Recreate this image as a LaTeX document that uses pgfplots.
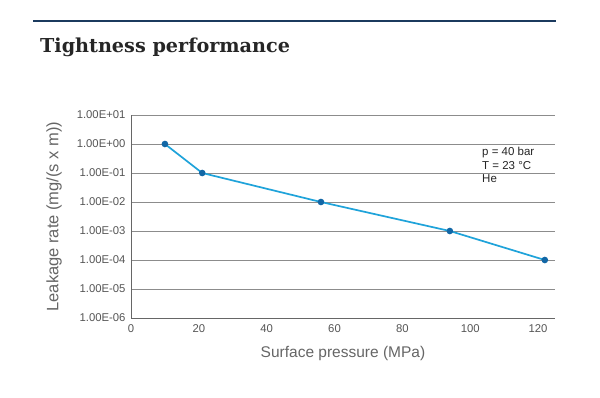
\documentclass[border=0pt]{standalone}
\usepackage{pgfplots}
\pgfplotsset{compat=1.18}
\usepackage{fontspec}
\setmainfont{Liberation Sans}
\newfontfamily\titlefont{DejaVu Serif}
\definecolor{linec}{HTML}{1FA3DA}
\definecolor{markc}{HTML}{1267A6}
\definecolor{navy}{HTML}{1B3A5E}
\definecolor{txt}{HTML}{555555}
\begin{document}
\begin{tikzpicture}[x=1pt,y=1pt]
\useasboundingbox (0,0) rectangle (600,-397);
\fill[white] (0,0) rectangle (600,-397);
\draw[navy, line width=1.8pt] (33,-21) -- (556,-21);
\node[anchor=base west, inner sep=0pt, font=\titlefont\bfseries\fontsize{19.2}{22}\selectfont, text=black!85] at (40,-52) {Tightness performance};
\begin{axis}[
  at={(131pt,-318pt)}, anchor=south west,
  scale only axis, width=424pt, height=203pt,
  xmin=0, xmax=125, ymode=log, ymin=1e-6, ymax=1e1,
  xtick={0,20,40,60,80,100,120},
  ytick={1e-6,1e-5,1e-4,1e-3,1e-2,1e-1,1e0,1e1},
  yticklabels={1.00E-06,1.00E-05,1.00E-04,1.00E-03,1.00E-02,1.00E-01,1.00E+00,1.00E+01},
  axis x line*=bottom, axis y line*=left,
  axis line style={draw=black!60, line width=0.8pt, -},
  ymajorgrids, grid style={draw=black!45, line width=0.8pt},
  tick style={draw=none},
  minor tick num=0, yminorgrids=false,
  tick label style={font=\fontsize{11.3}{13}\selectfont, text=txt},
  /pgf/number format/assume math mode=true,
  xticklabel style={yshift=-3pt},
  yticklabel style={xshift=-2pt},
  xlabel={Surface pressure (MPa)}, ylabel={Leakage rate (mg/(s x m))},
  label style={text=black!60},
  xlabel style={font=\fontsize{15.5}{17}\selectfont, yshift=-7pt},
  ylabel style={font=\fontsize{16.5}{18}\selectfont, yshift=8pt},
  clip=false,
]
\addplot[linec, line width=1.7pt, mark=*, mark size=2.4pt, mark options={fill=markc, draw=markc}]
  coordinates {(10,1) (21,0.1) (56,0.01) (94,0.001) (122,0.0001)};
\end{axis}
\node[anchor=base west, inner sep=0pt, font=\fontsize{11.5}{13}\selectfont, text=black!85] at (482,-155) {p = 40 bar};
\node[anchor=base west, inner sep=0pt, font=\fontsize{11.5}{13}\selectfont, text=black!85] at (482,-169) {T = 23 °C};
\node[anchor=base west, inner sep=0pt, font=\fontsize{11.5}{13}\selectfont, text=black!85] at (482,-182) {He};
\end{tikzpicture}
\end{document}
